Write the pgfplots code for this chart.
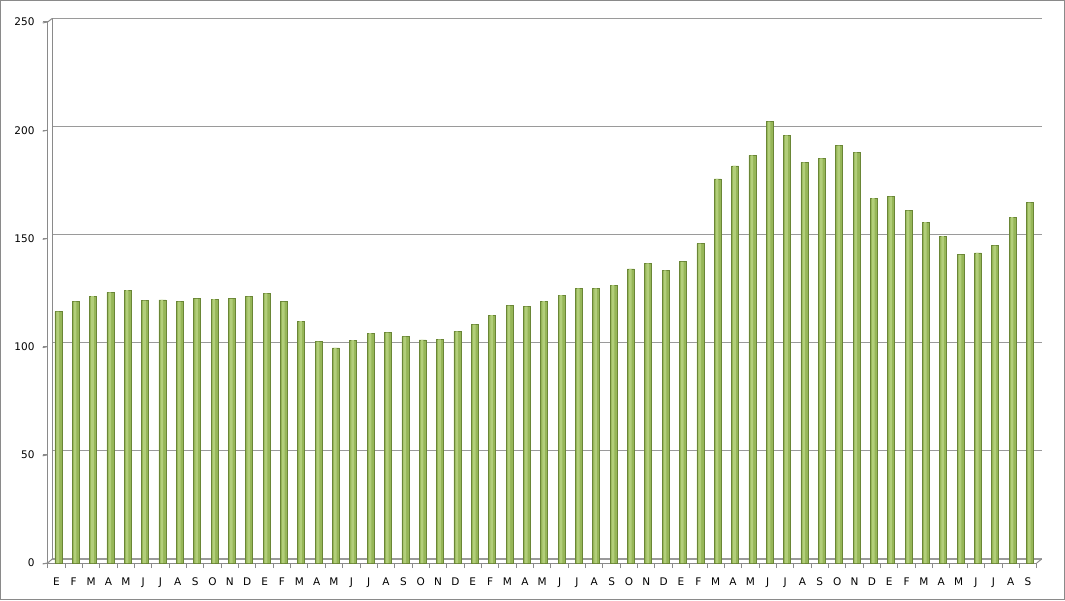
\documentclass[border=0pt]{standalone}
\usepackage{fontspec}
\setmainfont{DejaVu Sans}
\usepackage{pgfplots}
\pgfplotsset{compat=1.18}
\definecolor{gridc}{HTML}{9A9A9A}
\definecolor{axisc}{HTML}{8A8A8A}
\definecolor{barMid}{HTML}{96B658}
\definecolor{barLight}{HTML}{B2CE7A}
\definecolor{barEdge}{HTML}{6A8636}
\pgfplotstableread{
x y
0 116.2
1 120.8
2 123.3
3 125.1
4 126.1
5 121.2
6 121.6
7 120.8
8 122.1
9 121.9
10 122.1
11 123.1
12 124.6
13 120.7
14 111.8
15 102.3
16 99.4
17 103.0
18 106.2
19 106.5
20 104.6
21 103.1
22 103.3
23 107.0
24 110.2
25 114.5
26 118.9
27 118.5
28 121.0
29 123.8
30 126.9
31 126.9
32 128.4
33 135.9
34 138.5
35 135.2
36 139.2
37 147.6
38 177.5
39 183.5
40 188.4
41 204.0
42 197.6
43 185.1
44 187.0
45 192.9
46 189.8
47 168.6
48 169.3
49 162.8
50 157.5
51 151.1
52 142.4
53 143.3
54 146.7
55 159.8
56 166.5
}\datatable
\begin{document}
\begin{tikzpicture}
\useasboundingbox (0,0) rectangle (1065pt,600pt);
\draw[axisc, line width=1pt] (0.5pt,0.5pt) rectangle (1064.5pt,599.5pt);
% back wall with gridlines
\begin{axis}[
  at={(52.2pt,41pt)}, anchor=south west,
  scale only axis, width=989.5pt, height=540.6pt,
  xmin=-0.5, xmax=56.5, ymin=0, ymax=250,
  axis line style={draw=none},
  xtick=\empty, ytick={0,50,...,250}, yticklabels={},
  major tick length=0pt,
  ymajorgrids, grid style={gridc, line width=1.2pt},
  clip=false,
]
\draw[axisc, line width=1pt] (axis cs:-0.5,0) -- (axis cs:-0.5,250);
\end{axis}
% front axis with bars
\begin{axis}[
  at={(47.7pt,37pt)}, anchor=south west,
  scale only axis, width=989pt, height=541pt,
  xmin=-0.5, xmax=56.5, ymin=0, ymax=250,
  axis x line*=bottom, axis y line*=left,
  axis line style={axisc, line width=1pt},
  xtick={-0.5,0.5,...,56.5},
  x tick label as interval,
  xticklabels={E,F,M,A,M,J,J,A,S,O,N,D,E,F,M,A,M,J,J,A,S,O,N,D,E,F,M,A,M,J,J,A,S,O,N,D,E,F,M,A,M,J,J,A,S,O,N,D,E,F,M,A,M,J,J,A,S},
  ytick={0,50,...,250},
  xtick align=outside, ytick align=outside,
  major tick length=5pt,
  xtick style={axisc, line width=1pt},
  ytick style={axisc, line width=1pt},
  /pgf/number format/assume math mode=true,
  tick label style={font=\fontsize{10.5}{12}\selectfont, text=black},
  yticklabel style={inner sep=0pt, anchor=east, xshift=-8pt},
  xticklabel style={inner sep=0pt, anchor=north, yshift=-9.5pt},
  clip=false,
]
\addplot[ybar, bar width=7pt, bar shift=2pt, draw=barEdge, line width=0.7pt, fill=barMid]
  table[x=x, y=y] {\datatable};
\addplot[ybar, bar width=2.6pt, bar shift=1.4pt, draw=none, fill=barLight]
  table[x=x, y=y] {\datatable};
\pgfplotsinvokeforeach{0,50,100,150,200,250}{
  \draw[axisc, line width=1pt] (axis cs:-0.5,#1) -- ++(-5pt,-1pt);
}
\end{axis}
\draw[axisc, line width=1pt] (47.7pt,37pt) -- (52.2pt,41pt);
\draw[axisc, line width=1pt] (1036.7pt,37pt) -- (1041.7pt,41pt);
\draw[axisc, line width=1pt] (47.7pt,578pt) -- (52.2pt,581.6pt);
\end{tikzpicture}
\end{document}
